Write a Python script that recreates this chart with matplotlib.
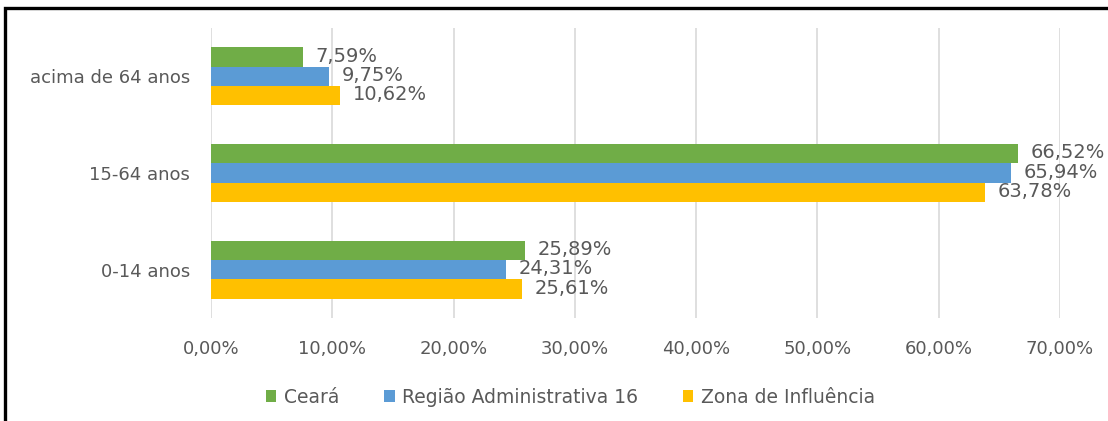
import matplotlib.pyplot as plt
import matplotlib.patches as patches
import numpy as np

categories = ['0-14 anos', '15-64 anos', 'acima de 64 anos']
ceara = [25.89, 66.52, 7.59]
regiao16 = [24.31, 65.94, 9.75]
zona = [25.61, 63.78, 10.62]
series_names = ['Ceará', 'Região Administrativa 16', 'Zona de Influência']
ticks = [0, 10, 20, 30, 40, 50, 60, 70]

colors = ['#70AD47', '#5B9BD5', '#FFC000']
grey = '#595959'

fig = plt.figure(figsize=(11.08, 4.21), dpi=100)
ax = fig.add_axes([211 / 1108, 0.2447, 849 / 1108, 0.6888])

y = np.arange(len(categories))
h = 0.2
offsets = [h, 0, -h]
for vals, off, col, name in zip([ceara, regiao16, zona], offsets, colors, series_names):
    bars = ax.barh(y + off, vals, height=h, color=col, label=name, zorder=3)
    for b, v in zip(bars, vals):
        ax.text(v + 1.05, b.get_y() + h / 2 + 0.01, f'{v:.2f}%'.replace('.', ','),
                va='center', ha='left', fontsize=14, color=grey, clip_on=False)

ax.set_xlim(0, 70)
ax.set_ylim(-0.5, 2.5)
ax.set_xticks(ticks)
ax.set_xticklabels([f'{t:.2f}%'.replace('.', ',') for t in ticks], fontsize=13, color=grey)
ax.set_yticks(y)
ax.set_yticklabels(categories, fontsize=13, color=grey)
ax.tick_params(length=0)
ax.tick_params(axis='x', pad=16)
ax.tick_params(axis='y', pad=15)
ax.grid(axis='x', color='#D9D9D9', linewidth=1.2, zorder=0)
for s in ax.spines.values():
    s.set_visible(False)

leg = fig.legend(loc='center', bbox_to_anchor=(0.515, 0.057), ncol=3, frameon=False,
                 fontsize=13.5, handlelength=0.55, handleheight=0.65, handletextpad=0.4,
                 columnspacing=2.4, labelcolor=grey)

# black frame around the chart
fig.add_artist(patches.Rectangle((5 / 1108, -0.1), 1.2, 1.1 - 8 / 421,
                                 transform=fig.transFigure, fill=False,
                                 edgecolor='black', linewidth=2.4))

fig.savefig('out.png', dpi=100)
